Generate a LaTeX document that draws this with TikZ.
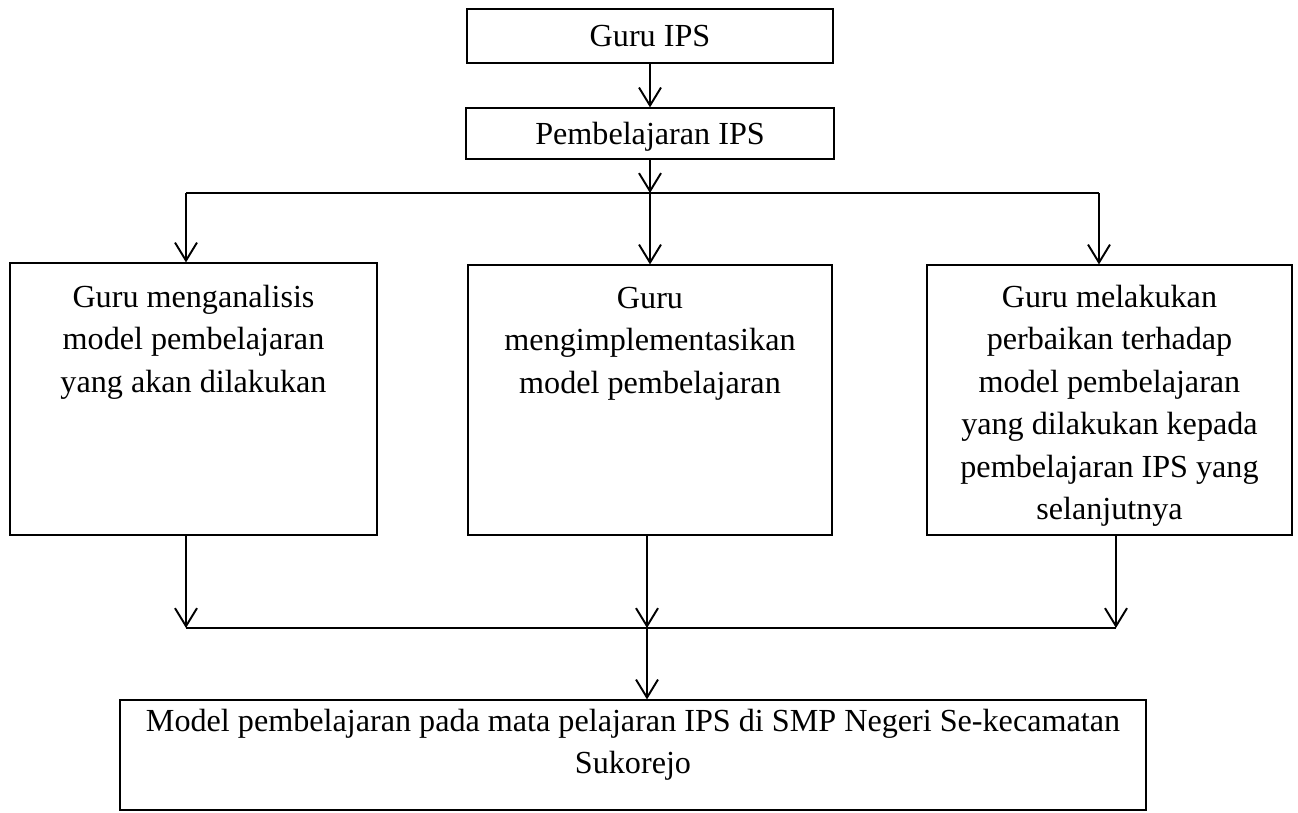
\documentclass[tikz,border=0pt]{standalone}
\usepackage{fontspec}
\setmainfont{Liberation Serif}
\usetikzlibrary{positioning,arrows.meta}

\begin{document}
\begin{tikzpicture}[x=0.02cm,y=-0.02cm,
  box/.style={draw,line width=.7pt,inner sep=0pt},
  txt/.style={inner sep=0pt,align=center,font=\fontsize{18.3}{24.2}\selectfont},
  arr/.style={-{Straight Barb[length=.36cm,width=.44cm]},line width=1.1pt}]
\useasboundingbox (0,0) rectangle (1298,812);
% top of the chart
\node[box,txt,minimum width=7.32cm,minimum height=1.08cm] (guru) at (650,36) {Guru IPS};
\node[box,txt,minimum width=7.36cm,minimum height=1.02cm,text depth=0pt] (pemb) at (650,133.5) {Pembelajaran IPS};
% three columns
\node[box,minimum width=7.34cm,minimum height=5.44cm] (ana) at (193.5,399) {};
\node[box,minimum width=7.28cm,minimum height=5.40cm] (impl) at (650,400) {};
\node[box,minimum width=7.30cm,minimum height=5.40cm] (perb) at (1109.5,400) {};
\node[txt,below=.44cm of ana.north] (anatext) {Guru menganalisis\\model pembelajaran\\yang akan dilakukan};
\node[txt,below=.44cm of impl.north] (impltext) {Guru\\mengimplementasikan\\model pembelajaran};
\node[txt,below=.4cm of perb.north] (perbtext) {Guru melakukan\\perbaikan terhadap\\model pembelajaran\\yang dilakukan kepada\\pembelajaran IPS yang\\selanjutnya};
% result
\node[box,minimum width=20.52cm,minimum height=2.2cm] (model) at (633,755) {};
\node[txt,below=.18cm of model.north] (modeltext) {Model pembelajaran pada mata pelajaran IPS di SMP Negeri Se-kecamatan\\Sukorejo};
% junctions
\coordinate (split) at (650,193);
\coordinate (splitL) at (186,193);
\coordinate (splitR) at (1099,193);
\coordinate (join) at (647,628);
\coordinate (joinL) at (186,628);
\coordinate (joinR) at (1116,628);
\draw[arr] (guru) -- (pemb);
\draw[arr] (pemb) -- (split);
\draw[line width=1.1pt] (splitL) -- (splitR);
\draw[arr] (splitL) -- (splitL |- ana.north);
\draw[arr] (split) -- (impl);
\draw[arr] (splitR) -- (splitR |- perb.north);
\draw[arr] (ana.south -| joinL) -- (joinL);
\draw[arr] (impl.south -| join) -- (join);
\draw[arr] (perb.south -| joinR) -- (joinR);
\draw[line width=1.1pt] (joinL) -- (joinR);
\draw[arr] (join) -- (join |- model.north);
\end{tikzpicture}
\end{document}
